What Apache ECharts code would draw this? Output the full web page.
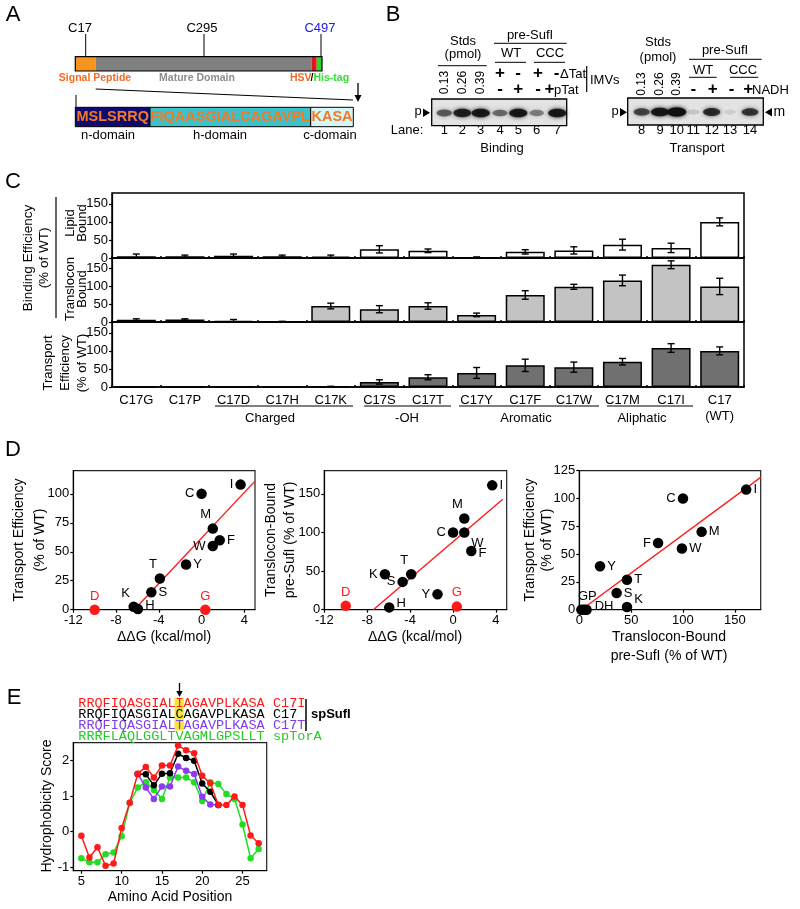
<!DOCTYPE html>
<html><head><meta charset="utf-8">
<script src="https://cdn.jsdelivr.net/npm/echarts@6/dist/echarts.min.js"></script>
<style>html,body{margin:0;padding:0;background:#fff}#c{width:800px;height:909px}</style>
</head><body><div id="c"></div>
<script>
const FONT = "'Liberation Sans', Arial, Helvetica, sans-serif";
const MONO = "'Liberation Mono', 'Courier New', monospace";

// ---------- Panel B (gel band intensities) ----------
const bindingLanes = ['1','2','3','4','5','6','7'];
const bindingBand = [0.55, 0.85, 0.9, 0.5, 0.9, 0.42, 0.9];
const transportLanes = ['8','9','10','11','12','13','14'];
const transportBand = [0.65, 0.9, 1.0, 0.12, 0.78, 0.1, 0.72];
const stdAmounts = ['0.13','0.26','0.39'];

// ---------- Panel C ----------
const cCategories = ['C17G','C17P','C17D','C17H','C17K','C17S','C17T','C17Y','C17F','C17W','C17M','C17I','C17\n(WT)'];
const lipidBound = [5,5,6,5,4,24,20,2,17,21,37,28,100];
const lipidErr   = [6,3,5,3,4,10,5,1,6,10,15,13,11];
const transloconBound = [6,7,3,1,45,36,45,20,76,99,117,161,100];
const transloconErr   = [3,2,4,1,8,10,9,5,12,7,15,11,23];
const transportEff = [0,0,0,0,1,14,27,39,60,55,70,108,100];
const transportErr = [0,0,0,0,1,6,7,15,17,14,9,12,11];
const cTicks = [0,50,100,150];
const cGroups = ['Charged','-OH','Aromatic','Aliphatic'];

// ---------- Panel D ----------
const dLetters = ['I','C','M','F','W','Y','T','S','K','H','D','G'];
const dDeltaG = [3.65, 0.0, 1.05, 1.7, 1.05, -1.45, -3.9, -4.7, -6.35, -5.95, -10.0, 0.35];
const dTransport = [108, 100, 70, 60, 55, 39, 27, 15, 2.5, 0.5, 0, 0];
const dTranslocon = [161, 100, 118, 76, 100, 20, 46, 36, 46, 3, 5, 4];
const d3Letters = ['I','C','M','F','W','Y','T','S','K','G','P','D','H'];
const d3Translocon = [161, 100, 118, 76, 99, 20, 46, 36, 46, 2, 5, 4, 7];
const d3Transport  = [108, 100, 70, 60, 55, 39, 27, 15, 2.5, 0, 0, 0, 0];
const fit1 = [[-6.3, 0], [5, 111]];
const fit2 = [[-7.43, 0], [4.63, 143]];
const fit3 = [[2, 0], [175, 119]];
const dGTicks = [-12,-8,-4,0,4];
const d1YTicks = [0,25,50,75,100];
const d2YTicks = [0,50,100,150];
const d3XTicks = [0,50,100,150];
const d3YTicks = [0,25,50,75,100,125];

// ---------- Panel E ----------
const ePositions = [5,6,7,8,9,10,11,12,13,14,15,16,17,18,19,20,21,22,23,24,25,26,27];
const eC17I   = [-0.12,-0.73,-0.44,-0.96,-0.9,0.1,0.81,1.63,1.82,1.52,1.86,1.86,2.42,2.29,2.2,1.57,1.36,0.75,0.75,0.99,0.75,-0.11,-0.33];
const eC17    = [null,null,null,null,null,null,null,1.62,1.61,1.3,1.63,1.64,2.19,2.07,1.99,1.35,1.12,0.75,null,null,null,null,null];
const eC17T   = [null,null,null,null,null,null,null,1.62,1.24,0.92,1.27,1.27,1.83,1.71,1.62,0.98,0.76,0.75,null,null,null,null,null];
const eSpTorA = [-0.75,-0.86,-0.86,-0.64,-0.59,-0.13,0.81,1.24,1.39,1.17,0.92,1.52,1.52,1.52,1.39,0.86,1.39,1.34,1.06,0.92,0.2,-0.75,-0.49];
const eXTicks = [5,10,15,20,25];
const eYTicks = [-1,0,1,2];
const seqC17I = 'RRQFIQASGIALIAGAVPLKASA';
const seqC17  = 'RRQFIQASGIALCAGAVPLKASA';
const seqC17T = 'RRQFIQASGIALTAGAVPLKASA';
const seqTorA = 'RRRFLAQLGGLTVAGMLGPSLLT';

// ---------- helpers ----------
const PI2 = Math.PI / 2;
function T(text, x, y, o) {
  o = o || {};
  return {type:'text', x:x, y:y, rotation:o.rot||0, silent:true, z:100,
    style:{text:text, x:0, y:0, fill:o.color||'#000', fontSize:o.size||13, fontFamily:o.family||FONT,
      fontWeight:o.bold?'bold':'normal', textAlign:o.align||'center', align:o.align||'center',
      textVerticalAlign:o.va||'middle', verticalAlign:o.va||'middle'}};
}
function L(x1,y1,x2,y2,w,c){ return {type:'line', silent:true, z:100, shape:{x1:x1,y1:y1,x2:x2,y2:y2}, style:{stroke:c||'#000', lineWidth:w||1}}; }
function R(x,y,w,h,fill,stroke,lw){ const s={fill:fill||'transparent'}; if(stroke){s.stroke=stroke;s.lineWidth=lw||1;} return {type:'rect', silent:true, z:90, shape:{x:x,y:y,width:w,height:h}, style:s}; }
function P(points, fill){ return {type:'polygon', silent:true, z:100, shape:{points:points}, style:{fill:fill||'#000'}}; }
function band(cx, cy, a){
  return {type:'ellipse', silent:true, z:95, shape:{cx:cx, cy:cy, rx:5.5+4*a, ry:2.2+2.3*a},
    style:{fill:'rgba(15,15,15,'+a+')', shadowBlur:4, shadowColor:'rgba(0,0,0,'+a+')'}};
}

const G = [];
// panel letters
G.push(T('A',13,15,{size:22}), T('B',393,15,{size:22}), T('C',13,182,{size:22}), T('D',13,450,{size:22}), T('E',14,698,{size:22}));

// ---------- Panel A ----------
G.push(R(75.3,56.7,20.4,14.3,'#f7941d'), R(95.7,56.7,216,14.3,'#808080'), R(311.7,56.7,5,14.3,'#e8141b'), R(316.7,56.7,5.3,14.3,'#2bd62b'));
G.push(R(75.3,56.7,246.7,14.3,'transparent','#000',1.2));
G.push(L(85.7,34,85.7,56.7), L(204,34,204,56.7), L(321,34,321,56.7));
G.push(T('C17',80,28), T('C295',202,28), T('C497',320,28,{color:'#2020dd'}));
G.push(T('Signal Peptide',95,78,{size:10.5,bold:true,color:'#f26b21'}), T('Mature Domain',197,78,{size:10.5,bold:true,color:'#8c8c8c'}));
G.push(T('HSV',290,78,{size:10.5,bold:true,color:'#f26b21',align:'left'}), T('/',310.5,78,{size:10.5,bold:true,align:'left'}), T('His-tag',313.5,78,{size:10.5,bold:true,color:'#33dd33',align:'left'}));
G.push(L(76,95,76,107), L(95.7,89,353,100));
G.push(L(358,83,358,97,1.3), P([[354.5,95],[361.5,95],[358,102]]));
G.push(R(75.3,107.3,74.7,19.4,'#0f0a70','#000',1), R(150,107.3,160.7,19.4,'#3cc2c8','#000',1), R(310.7,107.3,42.6,19.4,'#d6f5f5','#000',1));
G.push(T('MSLSRRQ',112.7,117.3,{size:14.5,bold:true,color:'#f07a28'}), T('FIQAASGIALCAGAVPL',230.3,117.3,{size:14.5,bold:true,color:'#f07a28'}), T('KASA',332,117.3,{size:14.5,bold:true,color:'#f07a28'}));
G.push(T('n-domain',108,135), T('h-domain',220,135), T('c-domain',330,135));

// ---------- Panel B ----------
const bindX = [444.3,462.3,480.7,500,518.3,536.7,557.3];
const transX = [641.7,660,676.7,693.3,711.7,730,750];
G.push(T('Stds',463,41), T('(pmol)',463,54), L(438,65.7,486.7,65.7));
G.push(T('pre-SufI',530,35), L(494,43.3,566.7,43.3));
G.push(T('WT',511,53), L(495,62.3,526,62.3), T('CCC',550,53), L(534,62.3,565,62.3));
stdAmounts.forEach((a,i)=>{ G.push(T(a,bindX[i],82.5,{rot:PI2,size:12})); G.push(T(a,transX[i],84,{rot:PI2,size:12})); });
[['+',500],['-',518],['+',538],['-',556.7]].forEach(s=>G.push(T(s[0],s[1],73,{size:17,bold:true})));
[['-',500],['+',518.3],['-',538],['+',549.5]].forEach(s=>G.push(T(s[0],s[1],89,{size:17,bold:true})));
G.push(T('\u0394Tat',560,74,{align:'left'}), T('pTat',554,90,{align:'left'}));
G.push(L(586.7,66,586.7,92,1.2), T('IMVs',590,80,{align:'left'}));
G.push(R(431.7,99,135,26.7,'#e3e3e3','#000',1.3));
bindingBand.forEach((a,i)=>G.push(band(bindX[i],113,a)));
G.push(T('p',418,111), P([[423,108.5],[423,117],[430,112.7]]));
G.push(T('Lane:',407,130));
bindingLanes.forEach((l,i)=>G.push(T(l,bindX[i],130)));
G.push(T('Binding',502,148));

G.push(T('Stds',658,42), T('(pmol)',658,57));
G.push(T('pre-SufI',725,50), L(689,59.3,761.7,59.3));
G.push(T('WT',703,70), L(689,77.3,716.7,77.3), T('CCC',743,70), L(730,77.3,758.3,77.3));
[['-',693.3],['+',712.7],['-',731.7],['+',748.3]].forEach(s=>G.push(T(s[0],s[1],89,{size:17,bold:true})));
G.push(T('NADH',752,90,{align:'left'}));
G.push(R(627.7,98,135.6,27,'#e3e3e3','#000',1.3));
transportBand.forEach((a,i)=>G.push(band(transX[i],112,a)));
G.push(T('p',615,111), P([[620,108],[620,116.5],[627,112.3]]));
G.push(P([[772,108],[772,116.5],[765,112.3]]), T('m',773.5,112,{align:'left',size:14}));
transportLanes.forEach((l,i)=>G.push(T(l,transX[i],130)));
G.push(T('Transport',697,148));

// ---------- Panel C annotations ----------
G.push(T('Binding Efficiency',28,258,{rot:PI2,size:13.5}), T('(% of WT)',44,258,{rot:PI2,size:13.5}), L(56,197,56,318,1.2));
G.push(T('Lipid',70,223,{rot:PI2}), T('Bound',82,223,{rot:PI2}), T('Translocon',70,289,{rot:PI2}), T('Bound',82,289,{rot:PI2}));
G.push(T('Transport',48,363,{rot:PI2}), T('Efficiency',65,363,{rot:PI2}), T('(% of WT)',82,363,{rot:PI2}));
const grpSpan = [[215,353],[364,451],[459,599],[607,693]];
const grpX = [270,407,526,642];
cGroups.forEach((g,i)=>{ G.push(L(grpSpan[i][0],406,grpSpan[i][1],406,1.2)); G.push(T(g,grpX[i],418,{size:13})); });

// ---------- Panel D titles ----------
G.push(T('Transport Efficiency',19,540,{rot:PI2,size:14}), T('(% of WT)',40,540,{rot:PI2,size:14}));
G.push(T('\u0394\u0394G (kcal/mol)',164,637,{size:14}));
G.push(T('Translocon-Bound',271,540,{rot:PI2,size:14}), T('pre-SufI (% of WT)',290,540,{rot:PI2,size:14}));
G.push(T('\u0394\u0394G (kcal/mol)',415,637,{size:14}));
G.push(T('Transport Efficiency',530,540,{rot:PI2,size:14}), T('(% of WT)',547,540,{rot:PI2,size:14}));
G.push(T('Translocon-Bound',669,637,{size:14}), T('pre-SufI (% of WT)',669,656,{size:14}));

// ---------- Panel E text ----------
G.push(R(174.5,697.5,9.3,33,'#f5e63a'));
G.push(L(179.5,683,179.5,693,1.3), P([[176.3,691],[182.7,691],[179.5,697]]));
const seqRows = [[seqC17I,'#ff1a1a','C17I'],[seqC17,'#000','C17'],[seqC17T,'#7f3fe8','C17T'],[seqTorA,'#22cc22','spTorA']];
seqRows.forEach((r,i)=>{ const y=703+i*11; G.push(T(r[0],78.3,y,{family:MONO,size:13.5,color:r[1],align:'left'})); G.push(T(r[2],273,y,{family:MONO,size:13.5,color:r[1],align:'left'})); });
G.push(L(306,699,306,731,1.5), T('spSufI',311,714,{align:'left',bold:true,size:13}));
G.push(T('Hydrophobicity Score',47,806,{rot:PI2,size:14}), T('Amino Acid Position',170,897,{size:14}));

// ---------- axes / grids ----------
const grids = [], xAxes = [], yAxes = [], series = [];
function valAxis(gi, min, max, ticks){
  return {gridIndex:gi, type:'value', min:min, max:max,
    axisLine:{show:true, onZero:false, lineStyle:{color:'#000', width:1.2}}, splitLine:{show:false},
    axisTick:{show:true, length:3, customValues:ticks, lineStyle:{color:'#000', width:1.2}},
    axisLabel:{customValues:ticks, color:'#000', fontSize:13, fontFamily:FONT, margin:4}};
}

// C grids
const cTops = [193,258,322], cHeights = [65,64,65];
const cVals = [lipidBound, transloconBound, transportEff];
const cErrs = [lipidErr, transloconErr, transportErr];
const cFills = ['#ffffff','#c3c3c3','#707070'];
for (let gi=0; gi<3; gi++){
  grids.push({left:112, top:cTops[gi], width:632, height:cHeights[gi], show:true, borderColor:'#000', borderWidth:1.5, outerBoundsMode:'none'});
  xAxes.push({gridIndex:gi, type:'category', data:cCategories,
    axisLine:{show:true, onZero:false, lineStyle:{color:'#000', width:1.5}},
    axisTick:{show:true, inside:true, length:2, lineStyle:{color:'#000', width:1.5}},
    axisLabel:{show:gi===2, interval:0, color:'#000', fontSize:13, fontFamily:FONT, margin:5, lineHeight:16}});
  yAxes.push(valAxis(gi, 0, 180, cTicks));
  series.push({type:'bar', xAxisIndex:gi, yAxisIndex:gi, data:cVals[gi], barWidth:39, animation:false,
    itemStyle:{color:cFills[gi], borderColor:'#000', borderWidth:1.5}});
  series.push({type:'custom', xAxisIndex:gi, yAxisIndex:gi, z:5, animation:false,
    data: cVals[gi].map((v,i)=>[i, Math.max(0, v - cErrs[gi][i]), v + cErrs[gi][i]]),
    encode:{x:0, y:[1,2]},
    renderItem: function(params, api){
      const lo = api.value(1), hi = api.value(2);
      if (hi - lo <= 0) return null;
      const a = api.coord([api.value(0), hi]), b = api.coord([api.value(0), lo]);
      const w = 3.5, st = {stroke:'#000', lineWidth:1.4};
      return {type:'group', children:[
        {type:'line', shape:{x1:a[0],y1:a[1],x2:b[0],y2:b[1]}, style:st},
        {type:'line', shape:{x1:a[0]-w,y1:a[1],x2:a[0]+w,y2:a[1]}, style:st},
        {type:'line', shape:{x1:b[0]-w,y1:b[1],x2:b[0]+w,y2:b[1]}, style:st}]};
    }});
}

// D grids
const dGridLefts = [73.3, 324.3, 579.3], dGridWidths = [181.7, 182.4, 181.4];
for (let k=0; k<3; k++){
  grids.push({left:dGridLefts[k], top:470.7, width:dGridWidths[k], height:139, show:true, borderColor:'#222', borderWidth:1.2, outerBoundsMode:'none'});
}
xAxes.push(valAxis(3, -12, 5, dGTicks));
yAxes.push(valAxis(3, 0, 120, d1YTicks));
xAxes.push(valAxis(4, -12, 5, dGTicks));
yAxes.push(valAxis(4, 0, 180, d2YTicks));
xAxes.push(valAxis(5, 0, 175, d3XTicks));
yAxes.push(valAxis(5, 0, 125, d3YTicks));

const d1Pos = {I:['left'],C:['left'],M:['top',[-7,0]],F:['right'],W:['left'],Y:['right'],T:['top',[-7,0]],S:['right'],K:['top',[-8,0]],H:['right',[0,-4]],D:['top'],G:['top']};
const d2Pos = {I:['right'],C:['left'],M:['top',[-7,0]],F:['right',[0,2]],W:['bottom',[13,-3]],Y:['left'],T:['top',[-7,0]],S:['left'],K:['left'],H:['right',[0,-4]],D:['top'],G:['top']};
const d3Pos = {I:['right'],C:['left'],M:['right'],F:['left'],W:['right'],Y:['right'],T:['right'],S:['right'],K:['right',[0,-7]],G:['top',[6,0]],D:['right',[4,-3]],P:['top'],H:['top']};
const d3Text = {G:'GP', D:'DH', P:'', H:''};
function scatterItems(xs, ys, letters, posMap, redOn, textMap){
  return letters.map((l,i)=>{
    const s = posMap[l] || ['right'];
    const red = redOn && (l==='D' || l==='G');
    const txt = textMap && (l in textMap) ? textMap[l] : l;
    return {value:[xs[i], ys[i]], name:l, itemStyle:{color: red ? '#ff1a1a' : '#000', opacity:1},
      label:{show: txt !== '', formatter: txt, position:s[0], offset:s[1]||[0,0], distance:2,
        color: red ? '#ff1a1a' : '#000', fontSize:13, fontFamily:FONT}};
  });
}
function fitLine(idx, data){
  return {type:'line', xAxisIndex:idx, yAxisIndex:idx, data:data, showSymbol:false, symbol:'none', animation:false, z:1,
    lineStyle:{color:'#ff1a1a', width:1.4}};
}
function scatter(idx, items){
  return {type:'scatter', xAxisIndex:idx, yAxisIndex:idx, data:items, symbolSize:10.5, animation:false, z:3, itemStyle:{opacity:1}};
}
series.push(fitLine(3, fit1), scatter(3, scatterItems(dDeltaG, dTransport, dLetters, d1Pos, true)));
series.push(fitLine(4, fit2), scatter(4, scatterItems(dDeltaG, dTranslocon, dLetters, d2Pos, true)));
series.push(fitLine(5, fit3), scatter(5, scatterItems(d3Translocon, d3Transport, d3Letters, d3Pos, false, d3Text)));

// E grid
grids.push({left:73.3, top:742.7, width:193.4, height:128, show:true, borderColor:'#222', borderWidth:1.2, outerBoundsMode:'none'});
xAxes.push(valAxis(6, 4, 28, eXTicks));
yAxes.push(valAxis(6, -1.1, 2.5, eYTicks));
function eLine(vals, color, z){
  const d = [];
  ePositions.forEach((p,i)=>{ if (vals[i] !== null) d.push([p, vals[i]]); });
  return {type:'line', xAxisIndex:6, yAxisIndex:6, data:d, symbol:'circle', symbolSize:6.5, showSymbol:true, animation:false, z:z,
    itemStyle:{color:color, opacity:1}, lineStyle:{color:color, width:1.5}};
}
series.push(eLine(eSpTorA, '#22dd22', 2), eLine(eC17T, '#8c3cf0', 3), eLine(eC17, '#000000', 4), eLine(eC17I, '#ff1a1a', 5));

const chart = echarts.init(document.getElementById('c'), null, {renderer:'canvas'});
chart.setOption({
  animation:false,
  backgroundColor:'#ffffff',
  textStyle:{fontFamily:FONT},
  grid:grids, xAxis:xAxes, yAxis:yAxes, series:series,
  graphic:{elements:G}
});
</script></body></html>
